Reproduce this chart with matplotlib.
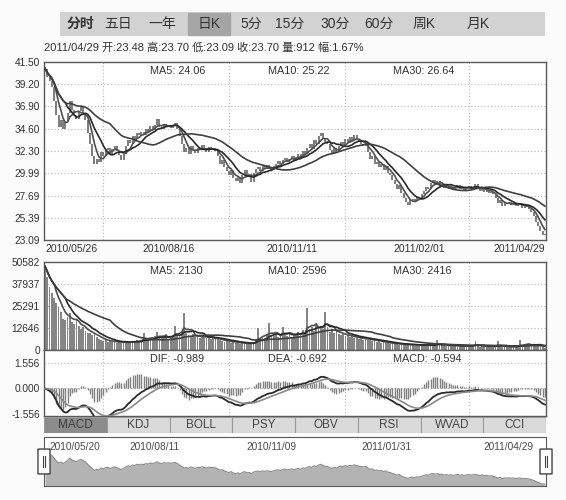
import numpy as np
import pandas as pd
import matplotlib
matplotlib.use("Agg")
import matplotlib.pyplot as plt
from matplotlib.patches import Rectangle, FancyBboxPatch

plt.rcParams['font.family'] = ['Liberation Sans', 'Noto Sans CJK SC', 'DejaVu Sans']

# 日线收盘价 (2010/05/26 - 2011/04/29, 从图上估读)
close = [
    40.8, 40.0, 39.5, 38.9, 37.5, 36.0, 34.8, 35.5, 34.6, 35.3,
    36.2, 37.5, 36.5, 36.0, 35.6, 36.4, 36.8, 36.2, 35.5, 34.2,
    33.0, 31.8, 30.9, 31.5, 31.2, 32.2, 31.8, 32.4, 32.6, 32.0,
    32.5, 32.8, 32.3, 31.9, 31.4, 32.0, 32.8, 33.4, 33.1, 33.8,
    33.5, 34.2, 33.9, 34.3, 34.0, 34.6, 34.3, 34.9, 34.5, 35.0,
    35.6, 34.8, 34.6, 35.1, 34.8, 35.0, 34.7, 35.0, 35.2, 34.6,
    33.8, 33.0, 32.2, 32.6, 32.0, 32.8, 32.4, 32.1, 32.6, 32.4,
    32.9, 32.5, 32.2, 32.7, 32.4, 32.6, 32.3, 31.8, 31.0, 31.4,
    30.6, 30.2, 29.8, 30.3, 29.5, 29.2, 29.6, 29.0, 29.8, 30.3,
    29.6, 29.9, 29.1, 30.0, 30.4, 30.6, 30.2, 30.7, 30.4, 30.8,
    30.5, 30.3, 30.7, 31.0, 31.3, 30.9, 31.4, 31.6, 31.2, 31.5,
    31.8, 31.3, 31.7, 32.0, 31.6, 32.3, 32.0, 32.6, 33.0, 32.5,
    33.4, 33.0, 33.8, 34.2, 33.6, 33.2, 33.0, 32.4, 32.0, 32.6,
    32.2, 32.8, 33.2, 32.9, 33.5, 33.1, 33.7, 33.3, 33.9, 33.5,
    33.2, 33.0, 32.8, 33.1, 32.2, 31.5, 31.8, 30.9, 31.2, 30.6,
    30.9, 30.3, 30.7, 30.0, 29.8, 29.3, 28.9, 28.4, 28.8, 27.9,
    27.4, 27.0, 26.7, 27.2, 27.3, 27.1, 27.5, 27.4, 27.8, 28.2,
    28.6, 28.4, 29.0, 29.3, 28.9, 29.2, 28.7, 28.9, 28.5, 28.7,
    28.4, 28.6, 28.3, 28.5, 28.8, 28.4, 28.6, 28.3, 28.5, 28.7,
    28.4, 28.6, 28.9, 28.4, 28.2, 28.5, 28.1, 28.3, 27.9, 28.1,
    27.8, 27.4, 26.9, 27.2, 26.6, 26.9, 26.8, 27.0, 26.7, 26.9,
    26.6, 26.8, 26.9, 26.4, 26.6, 26.5, 26.3, 26.0, 25.6, 25.0,
    24.5, 24.0, 23.6, 23.70,
]

# 成交量
volume = [
    48000, 42000, 36000, 33000, 30000, 27000, 25000, 22000,
    18000, 17000, 19000, 21000, 16000, 15000, 17000,
    14000, 12000, 13000, 11000, 9500, 10000, 8500, 9000, 7500,
    6500, 5800, 5200, 6000, 4800, 5000, 4500, 5200, 4200, 4800,
    3900, 4400, 5000, 4100, 4600, 5300, 4800, 5600, 5100,
    5800, 9800, 6200, 5400, 7000, 6500, 8200, 10500, 7200, 6800,
    7600, 9000, 6400, 7100, 8800, 14000, 9600, 8400,
    11000, 21000, 9500, 8800, 7800, 9200, 7400, 8000, 6900, 7600,
    8400, 6800, 7200, 6500, 7000, 6100, 6600, 5800,
    5200, 4800, 5600, 4500, 4200, 5000, 3900, 4400, 3600, 4100,
    3800, 3400, 4000, 3500, 4300,
    6500, 12500, 7000, 8200, 6800, 9400, 15500, 8600, 7800, 9000,
    7200, 8400, 13000, 9200, 8000, 10200, 7600, 9000,
    8800, 10500, 9000, 11500, 9600, 24000, 12000, 13500, 11000, 15000,
    12500, 14000, 11800, 21800, 13000, 10500, 12000, 9800, 11000, 9200,
    8600, 9400, 7800, 8800, 7200, 8000, 6800, 7400, 6400, 7000,
    6000, 6600, 5600, 6200, 5200, 5800, 4800, 5400,
    4200, 4600, 3800, 4300, 3500, 4000, 3200, 3700, 3000, 3400,
    2800, 3600, 2600, 3100, 2900, 2500, 3300, 2700, 3000,
    2800, 2500, 3000, 2600, 3100, 2700, 5500, 2900, 2600, 2800,
    2400, 2700, 2300, 2600, 2200, 2500, 2300, 2700, 2400, 2100,
    2500, 2200, 2600, 5000, 2400,
    1900, 2100, 2300, 1800, 2000, 2400, 1700, 2000, 5200, 2200,
    1900, 1700, 2100, 1800, 1600, 2000, 1800, 1900, 6000, 2100,
    3100, 3300, 3000, 2900, 3000, 2600, 2400, 2600, 2130, 912,
]

holidays = ['2010-06-14', '2010-06-15', '2010-06-16', '2010-09-22', '2010-09-23',
            '2010-09-24', '2010-10-01', '2010-10-04', '2010-10-05', '2010-10-06',
            '2010-10-07', '2011-01-03', '2011-02-02', '2011-02-03', '2011-02-04',
            '2011-02-07', '2011-02-08', '2011-04-04', '2011-04-05']
date_labels = ['2010/05/26', '2010/08/16', '2010/11/11', '2011/02/01', '2011/04/29']
grid_dates = ['2010-07-06', '2010-09-27', '2010-12-15', '2011-03-10']
nav_labels = ['2010/05/20', '2010/08/11', '2010/11/09', '2011/01/31', '2011/04/29']

price_ticks = [23.09, 25.39, 27.69, 29.99, 32.30, 34.60, 36.90, 39.20, 41.50]
vol_ticks = [0, 12646, 25291, 37937, 50582]
macd_ticks = [-1.556, 0.000, 1.556]

info_text = '2011/04/29 开:23.48 高:23.70 低:23.09 收:23.70 量:912 幅:1.67%'
price_ma_text = ['MA5: 24.06', 'MA10: 25.22', 'MA30: 26.64']
vol_ma_text = ['MA5: 2130', 'MA10: 2596', 'MA30: 2416']
macd_text = ['DIF: -0.989', 'DEA: -0.692', 'MACD: -0.594']
top_tabs = ['分时', '五日', '一年', '日K', '5分', '15分', '30分', '60分', '周K', '月K']
ind_tabs = ['MACD', 'KDJ', 'BOLL', 'PSY', 'OBV', 'RSI', 'WVAD', 'CCI']

# ---- 数据处理 ----
dates = pd.bdate_range('2010-05-26', '2011-04-29')
dates = dates[~dates.isin(pd.to_datetime(holidays))]
c = pd.Series(close)
v = pd.Series(volume)
n = len(c)
x = np.arange(n)
opens = np.r_[close[0], close[:-1]]

ema12 = c.ewm(span=12, adjust=False).mean()
ema26 = c.ewm(span=26, adjust=False).mean()
dif = ema12 - ema26
dea = dif.ewm(span=9, adjust=False).mean()
hist = 2 * (dif - dea)

tick_idx = [dates.get_loc(pd.Timestamp(d.replace('/', '-'))) for d in date_labels]
grid_idx = [dates.searchsorted(pd.Timestamp(d)) for d in grid_dates]

W, H = 566, 500


def box(l, t, r, b):
    return [l / W, 1 - b / H, (r - l) / W, (b - t) / H]


def px(xp, yp):
    return xp / W, 1 - yp / H


txt = '#333333'
grid_kw = dict(color='#b4b4b4', linestyle=(0, (1, 2)), linewidth=0.8)
ma_cols = ['#505050', '#2a2a2a', '#404040']

fig = plt.figure(figsize=(W / 100, H / 100), dpi=100)
fig.patch.set_facecolor('#fbfbfb')


def style(ax, ticks, labels):
    ax.set_facecolor('white')
    for s in ax.spines.values():
        s.set_color('#5a5a5a')
        s.set_linewidth(1.0)
    ax.set_yticks(ticks)
    ax.set_yticklabels(labels, fontsize=7.3, color=txt)
    ax.tick_params(axis='y', length=0, pad=3)
    ax.set_xlim(-0.5, n - 0.5)
    for gi in grid_idx:
        ax.axvline(gi, **grid_kw, zorder=0)
    for t in ticks[1:-1]:
        ax.axhline(t, **grid_kw, zorder=0)


# 顶部周期标签
axt = fig.add_axes(box(60, 12, 545, 36))
axt.axis('off')
axt.add_patch(Rectangle((0, 0), 1, 1, color='#d2d2d2', transform=axt.transAxes))
tab_x = [80, 118, 162, 209, 251, 290, 335, 379, 424, 478]
for i, (t, tx) in enumerate(zip(top_tabs, tab_x)):
    if t == '日K':
        fig.patches.append(Rectangle(px(188, 35), 42 / W, 22 / H, transform=fig.transFigure,
                                     color='#a5a5a5', zorder=1))
    fig.text(*px(tx, 24), t, fontsize=10, ha='center', va='center', color='#333333',
             fontweight='bold' if i == 0 else 'normal', zorder=3)

fig.text(*px(44, 48), info_text, fontsize=8, ha='left', va='center', color=txt)

# K线
ax1 = fig.add_axes(box(44, 62, 546, 240))
style(ax1, price_ticks, ['%.2f' % t for t in price_ticks])
ax1.set_ylim(23.09, 41.50)
lo = np.minimum(opens, close)
hi = np.maximum(np.maximum(opens, close), lo + 0.15)
ax1.vlines(x, lo, hi, color='#5a5a5a', linewidth=1.1, zorder=2)
for w, col in zip([5, 10, 30], ma_cols):
    ax1.plot(x, c.rolling(w, min_periods=1).mean(), color=col, linewidth=1.2, zorder=3)
ax1.set_xticks(tick_idx)
ax1.set_xticklabels(date_labels, fontsize=7.5, color=txt)
ax1.tick_params(axis='x', length=0, pad=3)
labs = ax1.get_xticklabels()
labs[0].set_ha('left')
labs[-1].set_ha('right')
for t, lx in zip(price_ma_text, [150, 268, 393]):
    fig.text(*px(lx, 71), t, fontsize=7.8, color=txt, va='center')

# 成交量
ax2 = fig.add_axes(box(44, 262, 546, 350))
style(ax2, vol_ticks, [str(t) for t in vol_ticks])
ax2.set_ylim(0, 50582)
ax2.bar(x, v, width=0.8, color='#858585', linewidth=0, zorder=2)
for w, col in zip([5, 10, 30], ma_cols):
    ax2.plot(x, v.rolling(w, min_periods=1).mean(), color=col, linewidth=1.2, zorder=3)
ax2.set_xticks([])
for t, lx in zip(vol_ma_text, [150, 268, 393]):
    fig.text(*px(lx, 271), t, fontsize=7.8, color=txt, va='center')

# MACD
ax3 = fig.add_axes(box(44, 350, 546, 416))
style(ax3, macd_ticks, ['%.3f' % t for t in macd_ticks])
ax3.axhline(macd_ticks[-1], **grid_kw, zorder=0)
ax3.axhline(0, **grid_kw, zorder=0)
ax3.set_ylim(-1.68, 2.35)
ax3.vlines(x, 0, hist, color='#808080', linewidth=1.0, zorder=2)
ax3.plot(x, dif, color='#2a2a2a', linewidth=1.3, zorder=3)
ax3.plot(x, dea, color='#8a8a8a', linewidth=1.2, zorder=3)
ax3.set_xticks([])
for t, lx in zip(macd_text, [150, 268, 393]):
    fig.text(*px(lx, 359), t, fontsize=7.8, color=txt, va='center')

# 指标标签
ax4 = fig.add_axes(box(44, 417, 546, 433))
ax4.set_xlim(0, len(ind_tabs))
ax4.set_ylim(0, 1)
ax4.axis('off')
for i, t in enumerate(ind_tabs):
    ax4.add_patch(Rectangle((i, 0), 1, 1, facecolor='#8c8c8c' if i == 0 else '#dadada',
                            edgecolor='#9a9a9a', linewidth=0.8))
    ax4.text(i + 0.5, 0.5, t, ha='center', va='center', fontsize=8.5,
             color='#3c3c3c' if i == 0 else '#444444')

# 导航条
ax5 = fig.add_axes(box(44, 437, 546, 486))
ax5.set_xlim(-0.5, n - 0.5)
ax5.set_ylim(22.6, 48.8)
ax5.fill_between(x, 22.6, c, color='#b3b3b3', linewidth=0)
ax5.plot(x, c, color='#8a8a8a', linewidth=0.8)
ax5.set_xticks([])
ax5.set_yticks([])
for s in ax5.spines.values():
    s.set_color('#5a5a5a')
nav_x = [0.01, 0.221, 0.454, 0.683, 0.975]
for i, (t, nx) in enumerate(zip(nav_labels, nav_x)):
    ha = 'left' if i == 0 else ('right' if i == len(nav_labels) - 1 else 'center')
    ax5.text(nx, 0.8, t, transform=ax5.transAxes, fontsize=7.3, color='#4a4a4a',
             ha=ha, va='center')
for hx in [0.0, 1.0]:
    ax5.add_patch(FancyBboxPatch((hx - 0.008, 0.25), 0.016, 0.5, transform=ax5.transAxes,
                                 boxstyle='round,pad=0.004', facecolor='white',
                                 edgecolor='#444444', linewidth=1.0, clip_on=False, zorder=5))
    for d in (-0.0025, 0.0025):
        ax5.plot([hx + d, hx + d], [0.38, 0.62], transform=ax5.transAxes, color='#444444',
                 linewidth=0.8, clip_on=False, zorder=6)

fig.savefig('out.png', dpi=100, facecolor=fig.get_facecolor())
